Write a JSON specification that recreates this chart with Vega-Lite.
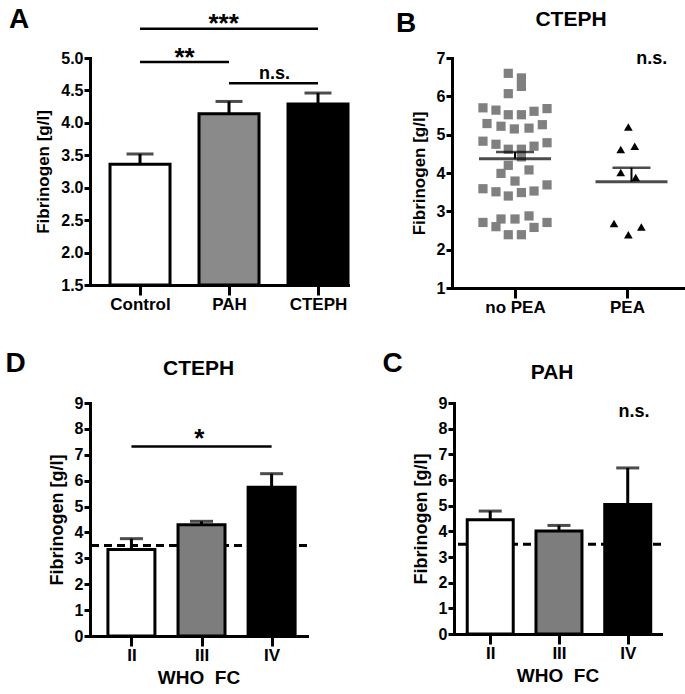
{
  "$schema": "https://vega.github.io/schema/vega-lite/v6.json",
  "padding": 5,
  "background": "white",
  "config": {
    "view": {"stroke": null},
    "font": "Liberation Sans",
    "scale": {"continuousPadding": 0},
    "axis": {"domainColor": "black", "domainWidth": 3, "domainCap": "square", "tickColor": "black", "tickWidth": 3, "labelFontSize": 16, "labelFontWeight": "bold", "labelColor": "black", "labelFont": "Liberation Sans", "titleFont": "Liberation Sans", "titleFontWeight": "bold", "titleFontSize": 17, "titleColor": "black", "grid": false, "labelPadding": 1, "tickCount": 20, "labelOverlap": false},
    "axisY": {"tickSize": 6, "titlePadding": 8},
    "axisX": {"tickSize": 10, "labelPadding": 1, "labelAngle": 0, "labelFontSize": 17},
    "text": {"font": "Liberation Sans", "fontWeight": "bold", "color": "black"}
  },
  "spacing": 34,
  "resolve": {"scale": {"color": "independent"}},
  "vconcat": [
    {
      "spacing": 46,
      "resolve": {"scale": {"color": "independent"}},
      "hconcat": [
        {
          "width": 258,
          "height": 227,
          "layer": [
            {
              "data": {"values": [
                {"pos": 1, "group": "Control", "mean": 3.36, "upper": 3.52},
                {"pos": 2, "group": "PAH", "mean": 4.14, "upper": 4.33},
                {"pos": 3, "group": "CTEPH", "mean": 4.29, "upper": 4.46}
              ]},
              "layer": [
                {
                  "mark": {"type": "bar", "width": 60, "stroke": "black", "strokeWidth": 3},
                  "encoding": {
                    "x": {"field": "pos", "type": "quantitative", "scale": {"domain": [0.438, 3.337], "nice": false, "zero": false, "padding": 0},
                          "axis": {"title": null, "values": [1, 2, 3], "labelExpr": "datum.value == 1 ? 'Control' : datum.value == 2 ? 'PAH' : 'CTEPH'"}},
                    "y": {"field": "mean", "type": "quantitative", "scale": {"domain": [1.5, 5], "nice": false, "zero": false, "padding": 0},
                          "axis": {"title": "Fibrinogen [g/l]", "values": [1.5, 2, 2.5, 3, 3.5, 4, 4.5, 5], "format": ".1f"}},
                    "y2": {"datum": 1.5},
                    "color": {"field": "group", "type": "nominal", "scale": {"domain": ["Control", "PAH", "CTEPH"], "range": ["white", "#8a8a8a", "black"]}, "legend": null}
                  }
                },
                {
                  "mark": {"type": "rule", "color": "black", "strokeWidth": 3},
                  "encoding": {
                    "x": {"field": "pos", "type": "quantitative"},
                    "y": {"field": "mean", "type": "quantitative"},
                    "y2": {"field": "upper"}
                  }
                },
                {
                  "mark": {"type": "tick", "orient": "horizontal", "color": "black", "size": 27, "thickness": 3},
                  "encoding": {
                    "x": {"field": "pos", "type": "quantitative"},
                    "y": {"field": "upper", "type": "quantitative"}
                  }
                }
              ]
            },
            {
              "data": {"values": [
                {"from": 1, "to": 3, "level": 5.45},
                {"from": 1, "to": 2, "level": 4.94},
                {"from": 2, "to": 3, "level": 4.61}
              ]},
              "mark": {"type": "rule", "color": "black", "strokeWidth": 2.5},
              "encoding": {
                "x": {"field": "from", "type": "quantitative"},
                "x2": {"field": "to"},
                "y": {"field": "level", "type": "quantitative"}
              }
            },
            {
              "data": {"values": [
                {"pos": 1.94, "level": 5.53, "label": "***"},
                {"pos": 1.5, "level": 5.0, "label": "**"}
              ]},
              "mark": {"type": "text", "fontSize": 26, "baseline": "middle"},
              "encoding": {
                "x": {"field": "pos", "type": "quantitative"},
                "y": {"field": "level", "type": "quantitative"},
                "text": {"field": "label"}
              }
            },
            {
              "data": {"values": [{"pos": 2.51, "level": 4.75, "label": "n.s."}]},
              "mark": {"type": "text", "fontSize": 18, "baseline": "middle"},
              "encoding": {
                "x": {"field": "pos", "type": "quantitative"},
                "y": {"field": "level", "type": "quantitative"},
                "text": {"field": "label"}
              }
            },
            {
              "data": {"values": [{"pos": -0.472, "level": 5.463, "label": "A"}]},
              "mark": {"type": "text", "fontSize": 28, "align": "left", "baseline": "alphabetic"},
              "encoding": {
                "x": {"field": "pos", "type": "quantitative"},
                "y": {"field": "level", "type": "quantitative"},
                "text": {"field": "label"}
              }
            }
          ]
        },
        {
          "width": 231,
          "height": 230,
          "layer": [
            {
              "data": {"values": [
                {"pos": 0.94, "value": 6.60},
                {"pos": 1.057, "value": 6.48},
                {"pos": 1.057, "value": 6.26},
                {"pos": 0.94, "value": 6.07},
                {"pos": 0.714, "value": 5.70},
                {"pos": 0.83, "value": 5.64},
                {"pos": 0.94, "value": 5.52},
                {"pos": 1.057, "value": 5.52},
                {"pos": 1.17, "value": 5.61},
                {"pos": 1.286, "value": 5.68},
                {"pos": 0.75, "value": 5.29},
                {"pos": 0.875, "value": 5.22},
                {"pos": 0.994, "value": 5.15},
                {"pos": 1.125, "value": 5.17},
                {"pos": 1.244, "value": 5.26},
                {"pos": 0.714, "value": 4.83},
                {"pos": 0.83, "value": 4.75},
                {"pos": 0.94, "value": 4.62},
                {"pos": 1.057, "value": 4.62},
                {"pos": 1.17, "value": 4.70},
                {"pos": 1.286, "value": 4.79},
                {"pos": 1.057, "value": 4.42},
                {"pos": 0.94, "value": 4.20},
                {"pos": 0.875, "value": 3.99},
                {"pos": 1.125, "value": 4.08},
                {"pos": 1.0, "value": 3.79},
                {"pos": 0.714, "value": 3.59},
                {"pos": 0.83, "value": 3.51},
                {"pos": 0.94, "value": 3.40},
                {"pos": 1.057, "value": 3.49},
                {"pos": 1.17, "value": 3.53},
                {"pos": 1.286, "value": 3.69},
                {"pos": 0.714, "value": 2.71},
                {"pos": 0.83, "value": 2.60},
                {"pos": 0.875, "value": 2.80},
                {"pos": 1.0, "value": 2.80},
                {"pos": 1.125, "value": 2.88},
                {"pos": 1.17, "value": 2.58},
                {"pos": 1.286, "value": 2.71},
                {"pos": 0.94, "value": 2.39},
                {"pos": 1.057, "value": 2.39}
              ]},
              "mark": {"type": "square", "size": 85, "color": "#808080", "opacity": 1},
              "encoding": {
                "x": {"field": "pos", "type": "quantitative", "scale": {"domain": [0.4375, 2.5], "nice": false, "zero": false, "padding": 0},
                      "axis": {"title": null, "values": [1, 2], "labelExpr": "datum.value == 1 ? 'no PEA' : 'PEA'"}},
                "y": {"field": "value", "type": "quantitative", "scale": {"domain": [1, 7], "nice": false, "zero": false, "padding": 0},
                      "axis": {"title": "Fibrinogen [g/l]", "values": [1, 2, 3, 4, 5, 6, 7], "format": "d"}}
              }
            },
            {
              "data": {"values": [
                {"pos": 2.012, "value": 5.20},
                {"pos": 1.944, "value": 4.61},
                {"pos": 2.069, "value": 4.70},
                {"pos": 1.944, "value": 4.01},
                {"pos": 2.078, "value": 3.88},
                {"pos": 1.884, "value": 2.68},
                {"pos": 2.128, "value": 2.59},
                {"pos": 2.012, "value": 2.39}
              ]},
              "mark": {"type": "point", "shape": "triangle-up", "filled": true, "size": 75, "color": "black", "opacity": 1},
              "encoding": {
                "x": {"field": "pos", "type": "quantitative"},
                "y": {"field": "value", "type": "quantitative"}
              }
            },
            {
              "data": {"values": [
                {"pos": 1.0, "mean": 4.37, "upper": 4.55},
                {"pos": 2.04, "mean": 3.77, "upper": 4.14}
              ]},
              "layer": [
                {
                  "mark": {"type": "tick", "orient": "horizontal", "color": "black", "size": 72, "thickness": 3},
                  "encoding": {
                    "x": {"field": "pos", "type": "quantitative"},
                    "y": {"field": "mean", "type": "quantitative"}
                  }
                },
                {
                  "mark": {"type": "rule", "color": "black", "strokeWidth": 2},
                  "encoding": {
                    "x": {"field": "pos", "type": "quantitative"},
                    "y": {"field": "mean", "type": "quantitative"},
                    "y2": {"field": "upper"}
                  }
                },
                {
                  "mark": {"type": "tick", "orient": "horizontal", "color": "black", "size": 38, "thickness": 2.5},
                  "encoding": {
                    "x": {"field": "pos", "type": "quantitative"},
                    "y": {"field": "upper", "type": "quantitative"}
                  }
                }
              ]
            },
            {
              "data": {"values": [{"pos": 1.5, "level": 8.0, "label": "CTEPH"}]},
              "mark": {"type": "text", "fontSize": 21, "baseline": "middle"},
              "encoding": {
                "x": {"field": "pos", "type": "quantitative"},
                "y": {"field": "level", "type": "quantitative"},
                "text": {"field": "label"}
              }
            },
            {
              "data": {"values": [{"pos": 2.22, "level": 6.98, "label": "n.s."}]},
              "mark": {"type": "text", "fontSize": 18, "baseline": "middle"},
              "encoding": {
                "x": {"field": "pos", "type": "quantitative"},
                "y": {"field": "level", "type": "quantitative"},
                "text": {"field": "label"}
              }
            },
            {
              "data": {"values": [{"pos": -0.0625, "level": 7.678, "label": "B"}]},
              "mark": {"type": "text", "fontSize": 28, "align": "left", "baseline": "alphabetic"},
              "encoding": {
                "x": {"field": "pos", "type": "quantitative"},
                "y": {"field": "level", "type": "quantitative"},
                "text": {"field": "label"}
              }
            }
          ]
        }
      ]
    },
    {
      "spacing": 73,
      "resolve": {"scale": {"color": "independent"}},
      "hconcat": [
        {
          "width": 217,
          "height": 233,
          "layer": [
            {
              "data": {"values": [{"ref": 3.5}]},
              "mark": {"type": "rule", "color": "black", "strokeWidth": 3, "strokeDash": [8, 5]},
              "encoding": {"y": {"field": "ref", "type": "quantitative"}}
            },
            {
              "data": {"values": [
                {"pos": 1, "cls": "II", "mean": 3.34, "upper": 3.76},
                {"pos": 2, "cls": "III", "mean": 4.30, "upper": 4.43},
                {"pos": 3, "cls": "IV", "mean": 5.75, "upper": 6.27}
              ]},
              "layer": [
                {
                  "mark": {"type": "bar", "width": 47, "stroke": "black", "strokeWidth": 3},
                  "encoding": {
                    "x": {"field": "pos", "type": "quantitative", "scale": {"domain": [0.409, 3.505], "nice": false, "zero": false, "padding": 0},
                          "axis": {"title": "WHO\u00a0 FC", "titleFontSize": 19, "titlePadding": 5, "values": [1, 2, 3], "labelExpr": "datum.value == 1 ? 'II' : datum.value == 2 ? 'III' : 'IV'"}},
                    "y": {"field": "mean", "type": "quantitative", "scale": {"domain": [0, 9], "nice": false, "padding": 0},
                          "axis": {"title": "Fibrinogen [g/l]", "titleFontSize": 18, "values": [0, 1, 2, 3, 4, 5, 6, 7, 8, 9], "format": "d"}},
                    "color": {"field": "cls", "type": "nominal", "scale": {"domain": ["II", "III", "IV"], "range": ["white", "#7d7d7d", "black"]}, "legend": null}
                  }
                },
                {
                  "mark": {"type": "rule", "color": "black", "strokeWidth": 3},
                  "encoding": {
                    "x": {"field": "pos", "type": "quantitative"},
                    "y": {"field": "mean", "type": "quantitative"},
                    "y2": {"field": "upper"}
                  }
                },
                {
                  "mark": {"type": "tick", "orient": "horizontal", "color": "black", "size": 23, "thickness": 3},
                  "encoding": {
                    "x": {"field": "pos", "type": "quantitative"},
                    "y": {"field": "upper", "type": "quantitative"}
                  }
                }
              ]
            },
            {
              "data": {"values": [{"from": 1, "to": 3, "level": 7.32}]},
              "mark": {"type": "rule", "color": "black", "strokeWidth": 2.5},
              "encoding": {
                "x": {"field": "from", "type": "quantitative"},
                "x2": {"field": "to"},
                "y": {"field": "level", "type": "quantitative"}
              }
            },
            {
              "data": {"values": [{"pos": 1.97, "level": 7.61, "label": "*"}]},
              "mark": {"type": "text", "fontSize": 26, "baseline": "middle"},
              "encoding": {
                "x": {"field": "pos", "type": "quantitative"},
                "y": {"field": "level", "type": "quantitative"},
                "text": {"field": "label"}
              }
            },
            {
              "data": {"values": [{"pos": 1.96, "level": 10.31, "label": "CTEPH"}]},
              "mark": {"type": "text", "fontSize": 21, "baseline": "middle"},
              "encoding": {
                "x": {"field": "pos", "type": "quantitative"},
                "y": {"field": "level", "type": "quantitative"},
                "text": {"field": "label"}
              }
            },
            {
              "data": {"values": [{"pos": -0.795, "level": 10.197, "label": "D"}]},
              "mark": {"type": "text", "fontSize": 28, "align": "left", "baseline": "alphabetic"},
              "encoding": {
                "x": {"field": "pos", "type": "quantitative"},
                "y": {"field": "level", "type": "quantitative"},
                "text": {"field": "label"}
              }
            }
          ]
        },
        {
          "width": 207,
          "height": 231,
          "layer": [
            {
              "data": {"values": [{"ref": 3.5}]},
              "mark": {"type": "rule", "color": "black", "strokeWidth": 3, "strokeDash": [8, 5]},
              "encoding": {"y": {"field": "ref", "type": "quantitative"}}
            },
            {
              "data": {"values": [
                {"pos": 1, "cls": "II", "mean": 4.45, "upper": 4.79},
                {"pos": 2, "cls": "III", "mean": 4.01, "upper": 4.23},
                {"pos": 3, "cls": "IV", "mean": 5.05, "upper": 6.47}
              ]},
              "layer": [
                {
                  "mark": {"type": "bar", "width": 46, "stroke": "black", "strokeWidth": 3},
                  "encoding": {
                    "x": {"field": "pos", "type": "quantitative", "scale": {"domain": [0.473, 3.484], "nice": false, "zero": false, "padding": 0},
                          "axis": {"title": "WHO\u00a0 FC", "titleFontSize": 19, "titlePadding": 5, "values": [1, 2, 3], "labelExpr": "datum.value == 1 ? 'II' : datum.value == 2 ? 'III' : 'IV'"}},
                    "y": {"field": "mean", "type": "quantitative", "scale": {"domain": [0, 9], "nice": false, "padding": 0},
                          "axis": {"title": "Fibrinogen [g/l]", "titleFontSize": 18, "values": [0, 1, 2, 3, 4, 5, 6, 7, 8, 9], "format": "d"}},
                    "color": {"field": "cls", "type": "nominal", "scale": {"domain": ["II", "III", "IV"], "range": ["white", "#7d7d7d", "black"]}, "legend": null}
                  }
                },
                {
                  "mark": {"type": "rule", "color": "black", "strokeWidth": 3},
                  "encoding": {
                    "x": {"field": "pos", "type": "quantitative"},
                    "y": {"field": "mean", "type": "quantitative"},
                    "y2": {"field": "upper"}
                  }
                },
                {
                  "mark": {"type": "tick", "orient": "horizontal", "color": "black", "size": 23, "thickness": 3},
                  "encoding": {
                    "x": {"field": "pos", "type": "quantitative"},
                    "y": {"field": "upper", "type": "quantitative"}
                  }
                }
              ]
            },
            {
              "data": {"values": [{"pos": 3.09, "level": 8.63, "label": "n.s."}]},
              "mark": {"type": "text", "fontSize": 18, "baseline": "middle"},
              "encoding": {
                "x": {"field": "pos", "type": "quantitative"},
                "y": {"field": "level", "type": "quantitative"},
                "text": {"field": "label"}
              }
            },
            {
              "data": {"values": [{"pos": 1.9, "level": 10.17, "label": "PAH"}]},
              "mark": {"type": "text", "fontSize": 21, "baseline": "middle"},
              "encoding": {
                "x": {"field": "pos", "type": "quantitative"},
                "y": {"field": "level", "type": "quantitative"},
                "text": {"field": "label"}
              }
            },
            {
              "data": {"values": [{"pos": -0.568, "level": 10.21, "label": "C"}]},
              "mark": {"type": "text", "fontSize": 28, "align": "left", "baseline": "alphabetic"},
              "encoding": {
                "x": {"field": "pos", "type": "quantitative"},
                "y": {"field": "level", "type": "quantitative"},
                "text": {"field": "label"}
              }
            }
          ]
        }
      ]
    }
  ]
}
